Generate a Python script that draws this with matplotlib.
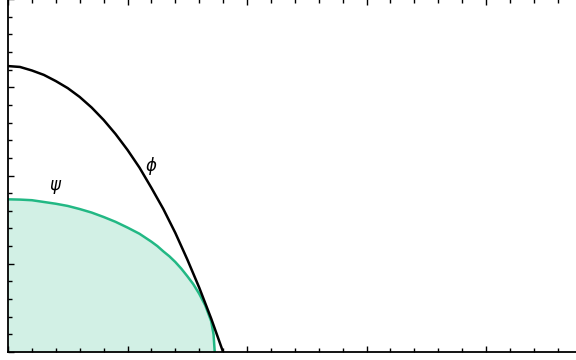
import numpy as np
import matplotlib
matplotlib.use("Agg")
import matplotlib.pyplot as plt
from matplotlib.ticker import MultipleLocator

# curve values
phi_x = [0.0, 0.1, 0.2, 0.3, 0.4, 0.5, 0.6, 0.7, 0.8, 0.9, 1.0,
         1.1, 1.2, 1.3, 1.4, 1.5, 1.6, 1.7, 1.8]
phi_y = [3.24, 3.23, 3.19, 3.14, 3.07, 2.99, 2.89, 2.77, 2.63, 2.47, 2.29,
         2.09, 1.86, 1.62, 1.35, 1.05, 0.73, 0.38, 0.0]

psi_x = [0.0, 0.1, 0.2, 0.3, 0.4, 0.5, 0.6, 0.7, 0.8, 0.9, 1.0, 1.1, 1.2,
         1.25, 1.3, 1.35, 1.4, 1.45, 1.5, 1.55, 1.6, 1.65, 1.7, 1.72, 1.73]
psi_y = [1.73, 1.727, 1.72, 1.70, 1.68, 1.655, 1.62, 1.58, 1.53, 1.475,
         1.41, 1.34, 1.25, 1.20, 1.14, 1.085, 1.02, 0.945, 0.86, 0.77,
         0.66, 0.53, 0.35, 0.20, 0.0]

labels = {"$\\psi$": (0.40, 1.87), "$\\phi$": (1.20, 2.11)}

green = "#22b884"
fill_green = "#d2f0e5"

fig = plt.figure(figsize=(5.76, 3.6), dpi=100)
ax = fig.add_axes([8 / 576, 8 / 360, 573.6 / 576, 353 / 360])

ax.fill_between(psi_x, psi_y, 0, color=fill_green, linewidth=0)
ax.plot(psi_x, psi_y, color=green, lw=1.8, solid_joinstyle="round")
ax.plot(phi_x, phi_y, color="black", lw=1.8, solid_joinstyle="round")

for txt, (tx, ty) in labels.items():
    ax.text(tx, ty, txt, fontsize=12, ha="center", va="center")

ax.set_xlim(0, 4.8)
ax.set_ylim(0, 4)
ax.xaxis.set_major_locator(MultipleLocator(1))
ax.xaxis.set_minor_locator(MultipleLocator(0.2))
ax.yaxis.set_major_locator(MultipleLocator(1))
ax.yaxis.set_minor_locator(MultipleLocator(0.2))
ax.tick_params(which="both", direction="in", top=True, right=True,
               labelbottom=False, labelleft=False, width=1.0)
ax.tick_params(which="major", length=4.5)
ax.tick_params(which="minor", length=3)
for s in ax.spines.values():
    s.set_linewidth(1.3)

fig.savefig("out.png", dpi=100)
